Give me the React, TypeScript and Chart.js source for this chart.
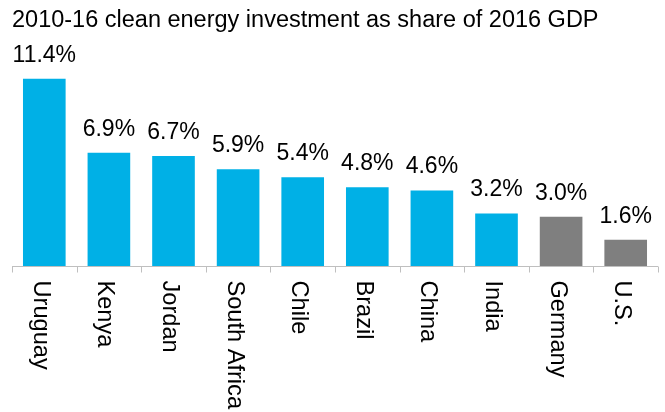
import React, { useEffect, useRef } from "react";
import { Chart, registerables } from "chart.js";

Chart.register(...registerables);

const TITLE = "2010-16 clean energy investment as share of 2016 GDP";
const CATEGORIES = ["Uruguay", "Kenya", "Jordan", "South Africa", "Chile", "Brazil", "China", "India", "Germany", "U.S."];
const VALUES = [11.4, 6.9, 6.7, 5.9, 5.4, 4.8, 4.6, 3.2, 3.0, 1.6];
const GROUPS = ["emerging", "emerging", "emerging", "emerging", "emerging", "emerging", "emerging", "emerging", "developed", "developed"];

const GROUP_COLORS: Record<string, string> = { emerging: "#00B0E6", developed: "#7F7F7F" };
const FONT = '"Liberation Sans", Arial, Helvetica, sans-serif';

const overlayPlugin = {
  id: "overlay",
  afterDraw(chart: any) {
    const ctx = chart.ctx as CanvasRenderingContext2D;
    const xs = chart.scales.x;
    const ys = chart.scales.y;
    const area = chart.chartArea;
    ctx.save();

    // title
    ctx.fillStyle = "#000";
    ctx.font = `23.5px ${FONT}`;
    ctx.textAlign = "left";
    ctx.textBaseline = "alphabetic";
    ctx.fillText(TITLE, 12, 27);

    // axis line + tick marks
    const y0 = Math.round(ys.getPixelForValue(0)) + 0.5;
    ctx.strokeStyle = "#BFBFBF";
    ctx.lineWidth = 1;
    ctx.beginPath();
    ctx.moveTo(area.left, y0);
    ctx.lineTo(area.right, y0);
    const n = CATEGORIES.length;
    const step = (area.right - area.left) / n;
    for (let i = 0; i <= n; i++) {
      const x = Math.round(area.left + i * step) + 0.5;
      ctx.moveTo(x, y0);
      ctx.lineTo(x, y0 + 6);
    }
    ctx.stroke();

    // value labels
    ctx.font = `23px ${FONT}`;
    ctx.textAlign = "center";
    ctx.textBaseline = "alphabetic";
    const meta = chart.getDatasetMeta(0);
    meta.data.forEach((bar: any, i: number) => {
      ctx.fillText(VALUES[i].toFixed(1) + "%", bar.x, bar.y - 17);
    });

    // category labels, rotated clockwise
    ctx.font = `23.6px ${FONT}`;
    ctx.textAlign = "left";
    CATEGORIES.forEach((c, i) => {
      const cx = xs.getPixelForValue(i);
      ctx.save();
      ctx.translate(cx - 10.5, 280.5);
      ctx.rotate(Math.PI / 2);
      ctx.fillText(c, 0, 0);
      ctx.restore();
    });

    ctx.restore();
  },
};

export default function App() {
  const ref = useRef<HTMLCanvasElement>(null);
  useEffect(() => {
    if (!ref.current) return;
    const chart = new Chart(ref.current, {
      type: "bar",
      data: {
        labels: CATEGORIES,
        datasets: [
          {
            data: VALUES,
            backgroundColor: GROUPS.map((g) => GROUP_COLORS[g]),
            borderWidth: 0,
            barPercentage: 0.66,
            categoryPercentage: 1,
          },
        ],
      },
      options: {
        responsive: false,
        animation: false,
        layout: { padding: { left: 12, right: 7, top: 69, bottom: 146 } },
        plugins: { legend: { display: false }, title: { display: false }, tooltip: { enabled: false } },
        scales: {
          x: { display: false },
          y: { display: false, min: 0, max: 12 },
        },
      },
      plugins: [overlayPlugin],
    });
    return () => chart.destroy();
  }, []);
  return (
    <div style={{ position: "absolute", left: 0, top: 0, width: 665, height: 412, background: "#fff" }}>
      <canvas ref={ref} width={665} height={412} />
    </div>
  );
}
